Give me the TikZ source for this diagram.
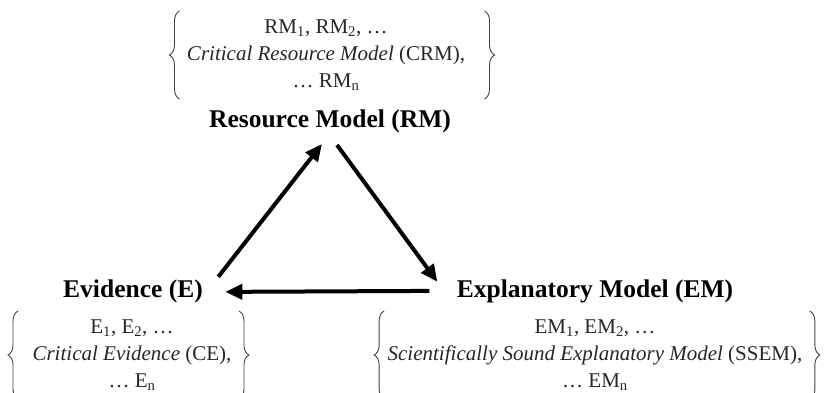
\documentclass[tikz,border=0pt]{standalone}
\usepackage{fontspec}
\setmainfont{Liberation Serif}
\usetikzlibrary{arrows.meta,decorations.pathreplacing}

\tikzset{
  title/.style={font=\fontsize{25.5}{30}\selectfont\bfseries, anchor=base},
  list/.style={font=\fontsize{21}{27}\selectfont, align=center, text=black!85},
  curly/.style={decorate, decoration={brace, amplitude=10pt}, black!75, line width=0.9pt},
  flow/.style={line width=4pt, -{Triangle[length=17pt,width=15pt]}},
}

\begin{document}
\begin{tikzpicture}[x=1pt, y=-1pt]
  \useasboundingbox (0,0) rectangle (825,392);

  % Resource Model (top)
  \node[list] (rmlist) at (326,55) {RM\textsubscript{1}, RM\textsubscript{2}, \ldots\\
    \textit{Critical Resource Model} (CRM),\\ \ldots{} RM\textsubscript{n}};
  \draw[curly] ([shift={(-4,5)}]rmlist.south west) -- ([shift={(-4,-5)}]rmlist.north west);
  \draw[curly] ([shift={(16,-5)}]rmlist.north east) -- ([shift={(16,5)}]rmlist.south east);
  \node[title] (rm) at (330,127) {Resource Model (RM)};

  % Evidence (bottom left)
  \node[title] (ev) at (133,297) {Evidence (E)};
  \node[list] (evlist) at (132,355) {E\textsubscript{1}, E\textsubscript{2}, \ldots\\
    \textit{Critical Evidence} (CE),\\ \ldots{} E\textsubscript{n}};
  \draw[curly] ([shift={(-11,5)}]evlist.south west) -- ([shift={(-11,-5)}]evlist.north west);
  \draw[curly] ([shift={(4,-5)}]evlist.north east) -- ([shift={(4,5)}]evlist.south east);

  % Explanatory Model (bottom right)
  \node[title] (em) at (595,297) {Explanatory Model (EM)};
  \node[list] (emlist) at (595,355) {EM\textsubscript{1}, EM\textsubscript{2}, \ldots\\
    \textit{Scientifically Sound Explanatory Model} (SSEM),\\ \ldots{} EM\textsubscript{n}};
  \draw[curly] ([shift={(0,5)}]emlist.south west) -- ([shift={(0,-5)}]emlist.north west);
  \draw[curly] ([shift={(4,-5)}]emlist.north east) -- ([shift={(4,5)}]emlist.south east);

  % cycle
  \draw[flow] ([shift={(12,1)}]ev.north east) -- ([shift={(-8,8)}]rm.south);
  \draw[flow] ([shift={(7,9)}]rm.south) -- ([shift={(-16,6)}]em.north west);
  \draw[flow] ([shift={(-24,0)}]em.west) -- ([shift={(19,1)}]ev.east);
\end{tikzpicture}
\end{document}
